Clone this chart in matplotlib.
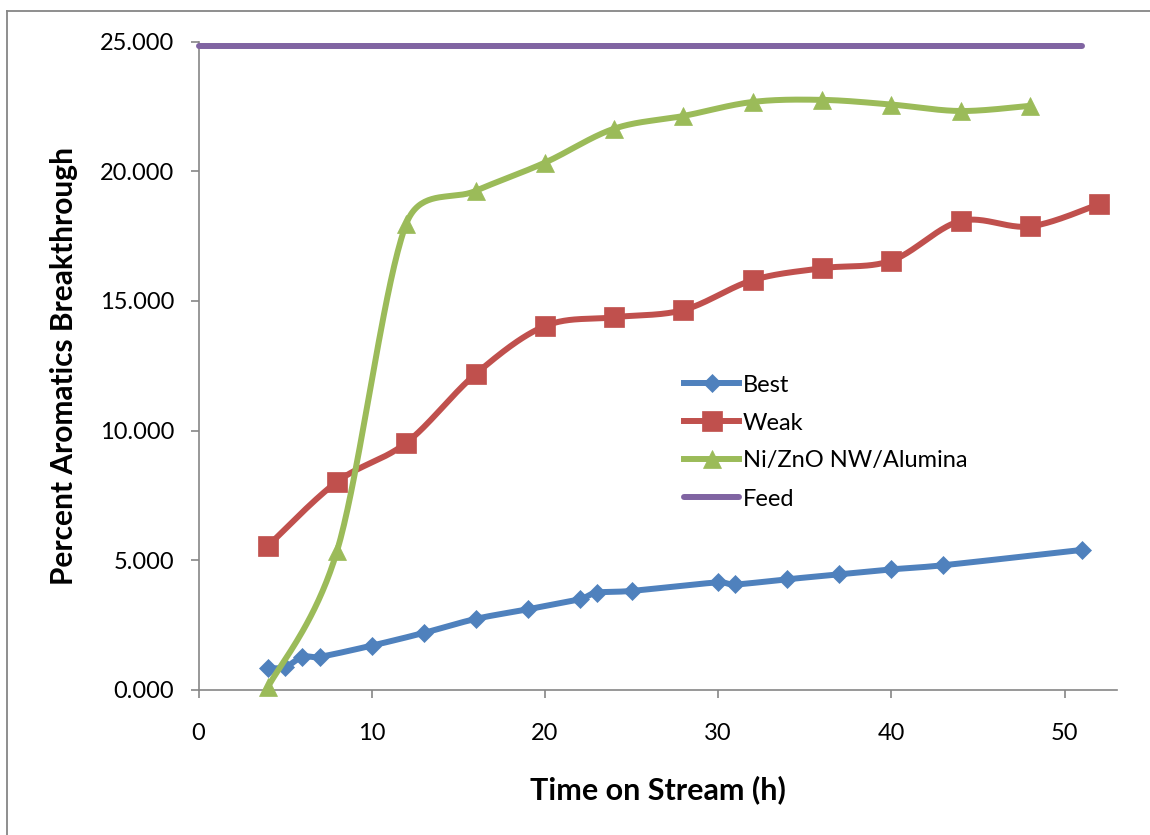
import numpy as np
import matplotlib
matplotlib.use("Agg")
import matplotlib.pyplot as plt
from matplotlib.lines import Line2D

plt.rcParams['font.family'] = ['Lato', 'DejaVu Sans']

# ---- data ----
best_x = [4, 5, 6, 7, 10, 13, 16, 19, 22, 23, 25, 30, 31, 34, 37, 40, 43, 51]
best_y = [0.84, 0.88, 1.28, 1.28, 1.71, 2.20, 2.74, 3.11, 3.50, 3.75, 3.82,
          4.15, 4.07, 4.27, 4.46, 4.65, 4.81, 5.40]

weak_x = [4, 8, 12, 16, 20, 24, 28, 32, 36, 40, 44, 48, 52]
weak_y = [5.55, 8.03, 9.53, 12.18, 14.03, 14.37, 14.65, 15.80, 16.26, 16.55,
          18.08, 17.87, 18.73]

ni_x = [4, 8, 12, 16, 20, 24, 28, 32, 36, 40, 44, 48]
ni_y = [0.10, 5.36, 17.98, 19.24, 20.33, 21.64, 22.13, 22.67, 22.75, 22.57,
        22.32, 22.52]

feed_x = [0, 51]
feed_y = [24.83, 24.83]

series_names = ["Best", "Weak", "Ni/ZnO NW/Alumina", "Feed"]
x_ticks = [0, 10, 20, 30, 40, 50]
y_ticks = [0, 5, 10, 15, 20, 25]

colors = ["#4F81BD", "#C0504D", "#9BBB59", "#8064A2"]

W, H = 1150, 835
ax_left_px, ax_right_px = 198.5, 1116.5
ax_top_px, ax_bottom_px = 41.5, 690
XMAX, YMAX = 53, 25
SX = (ax_right_px - ax_left_px) / XMAX
SY = (ax_bottom_px - ax_top_px) / YMAX


def excel_smooth(x, y, n=40):
    """Excel-like smoothed line (Bezier with 1/6 tension, arms limited to
    half the segment length), computed in screen space."""
    P = np.column_stack([np.asarray(x, float) * SX, np.asarray(y, float) * SY])
    if len(P) < 3:
        return P / [SX, SY], list(range(len(P)))
    Pe = np.vstack([P[0], P, P[-1]])
    segs = []
    t = np.linspace(0, 1, n, endpoint=False)[:, None]
    for i in range(len(P) - 1):
        p0, p1, p2, p3 = Pe[i], Pe[i + 1], Pe[i + 2], Pe[i + 3]
        d12 = np.hypot(*(p2 - p1))
        a1 = (p2 - p0) / 6.0
        a2 = (p3 - p1) / 6.0
        for a in (a1, a2):
            la = np.hypot(*a)
            if la > d12 / 2 and la > 0:
                a *= (d12 / 2) / la
        c1 = p1 + a1
        c2 = p2 - a2
        seg = ((1 - t) ** 3) * p1 + 3 * ((1 - t) ** 2) * t * c1 \
            + 3 * (1 - t) * t ** 2 * c2 + t ** 3 * p2
        segs.append(seg)
    segs.append(P[-1][None, :])
    pts = np.vstack(segs) / [SX, SY]
    return pts, list(range(0, n * (len(P) - 1) + 1, n))


fig = plt.figure(figsize=(W / 100, H / 100), dpi=100)
ax = fig.add_axes([ax_left_px / W, 1 - ax_bottom_px / H,
                   (ax_right_px - ax_left_px) / W, (ax_bottom_px - ax_top_px) / H])

lw = 4.3
specs = [
    (best_x, best_y, 'D', 9.0),
    (weak_x, weak_y, 's', 14.0),
    (ni_x, ni_y, '^', 12.5),
    (feed_x, feed_y, None, 0),
]
for k, ((xs, ys, mk, ms), name, c) in enumerate(zip(specs, series_names, colors)):
    pts, idx = excel_smooth(xs, ys)
    if mk is None:
        ax.plot(pts[:, 0], pts[:, 1], color=c, lw=lw, label=name,
                solid_capstyle='round', zorder=2 + k, clip_on=False)
    else:
        ax.plot(pts[:, 0], pts[:, 1], color=c, lw=lw, marker=mk, ms=ms,
                markevery=idx, markeredgecolor=c, markeredgewidth=0.5,
                label=name, zorder=2 + k, clip_on=False)

ax.set_xlim(0, XMAX)
ax.set_ylim(0, YMAX)
ax.set_xticks(x_ticks)
ax.set_yticks(y_ticks)
ax.set_yticklabels([f"{v:.3f}" for v in y_ticks])

for s in ['top', 'right']:
    ax.spines[s].set_visible(False)
for s in ['left', 'bottom']:
    ax.spines[s].set_color('#868686')
    ax.spines[s].set_linewidth(1.2)

ax.tick_params(axis='both', direction='out', length=5.5, width=1.2,
               color='#868686', labelsize=17, labelcolor='black')
ax.tick_params(axis='x', pad=18)
ax.tick_params(axis='y', pad=12)

ax.set_xlabel("Time on Stream (h)", fontsize=22, fontweight='bold', labelpad=23)
ax.set_ylabel("Percent Aromatics Breakthrough", fontsize=21.5, fontweight='bold',
              labelpad=16)

leg = ax.legend(loc='center left', bbox_to_anchor=(684 / W, 1 - 442 / H),
                bbox_transform=fig.transFigure, frameon=False, fontsize=17,
                numpoints=1, handlelength=2.35, handletextpad=0.15,
                labelspacing=0.72, borderpad=0, borderaxespad=0)

# outer chart frame (left and top edges visible)
fig.add_artist(Line2D([7 / W, 7 / W], [0, 1 - 11 / H], transform=fig.transFigure,
                      color='#868686', lw=1.3))
fig.add_artist(Line2D([7 / W, 1], [1 - 11 / H, 1 - 11 / H], transform=fig.transFigure,
                      color='#868686', lw=1.3))

fig.savefig("out.png", dpi=100)
